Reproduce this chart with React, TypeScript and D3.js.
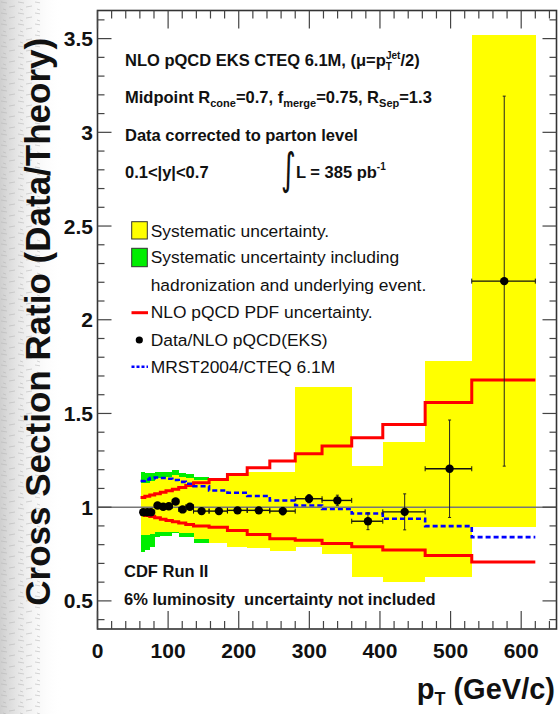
import React from "react";
import * as d3 from "d3";

// pT bin edges (GeV/c)
const binLow = [61, 67, 74, 81, 89, 97, 106, 115, 125, 136, 158, 184, 212, 244, 280, 318, 360, 404, 464, 530];
const binHigh = [67, 74, 81, 89, 97, 106, 115, 125, 136, 158, 184, 212, 244, 280, 318, 360, 404, 464, 530, 620];
// mean pT of each bin and the measured Data/NLO ratio
const ptMean = [64.8, 70.5, 75.7, 85, 93, 101, 110.6, 120.5, 130.8, 147.4, 171.9, 198.3, 228.4, 262.4, 299.6, 339.7, 383, 435, 498.6, 576];
const dataRatio = [0.973, 0.973, 0.973, 1.009, 1.002, 1.005, 1.03, 0.988, 1.002, 0.979, 0.979, 0.983, 0.983, 0.979, 1.045, 1.036, 0.925, 0.975, 1.205, 2.206];
const statError = [0.012, 0.012, 0.012, 0.012, 0.012, 0.013, 0.013, 0.013, 0.013, 0.013, 0.014, 0.015, 0.016, 0.02, 0.022, 0.028, 0.045, 0.096, 0.26, 0.987];
// systematic band (yellow)
const sysLow = [0.85, 0.85, 0.855, 0.865, 0.865, 0.865, 0.87, 0.86, 0.86, 0.83, 0.81, 0.79, 0.78, 0.765, 0.79, 0.75, 0.63, 0.6, 0.63, 0.895];
const sysHigh = [1.13, 1.13, 1.14, 1.155, 1.155, 1.16, 1.17, 1.16, 1.155, 1.145, 1.14, 1.17, 1.19, 1.19, 1.64, 1.64, 1.22, 1.35, 1.78, 3.52];
// systematic band including hadronization and underlying event (green), first ten bins
const hadLow = [0.76, 0.77, 0.79, 0.84, 0.845, 0.845, 0.86, 0.84, 0.84, 0.81];
const hadHigh = [1.19, 1.18, 1.18, 1.19, 1.19, 1.19, 1.2, 1.18, 1.175, 1.16];
// NLO pQCD PDF uncertainty envelope
const pdfUp = [1.052, 1.058, 1.065, 1.072, 1.08, 1.088, 1.096, 1.105, 1.115, 1.13, 1.148, 1.174, 1.21, 1.246, 1.285, 1.326, 1.37, 1.441, 1.559, 1.678];
const pdfDown = [0.962, 0.956, 0.95, 0.943, 0.936, 0.929, 0.922, 0.915, 0.908, 0.9, 0.893, 0.876, 0.854, 0.831, 0.824, 0.806, 0.789, 0.771, 0.742, 0.707];
// MRST2004 / CTEQ 6.1M
const mrstRatio = [1.14, 1.148, 1.155, 1.158, 1.156, 1.152, 1.145, 1.135, 1.125, 1.112, 1.089, 1.077, 1.06, 1.036, 1.009, 0.991, 0.966, 0.938, 0.899, 0.84];

const xTickValues = [0, 100, 200, 300, 400, 500, 600];
const yTickValues = [0.5, 1, 1.5, 2, 2.5, 3, 3.5];
const yTickLabels = ["0.5", "1", "1.5", "2", "2.5", "3", "3.5"];

const W = 558;
const H = 714;
const FONT = "'Liberation Sans', Arial, Helvetica, sans-serif";

const x = d3.scaleLinear().domain([0, 650]).range([97.5, 556.5]);
const y = d3.scaleLinear().domain([0.35, 3.65]).range([629, 10.5]);

function stepPath(values: number[]): string {
  const pts: [number, number][] = [];
  values.forEach((v, i) => {
    pts.push([binLow[i], v]);
    pts.push([binHigh[i], v]);
  });
  return d3.line<[number, number]>().x((d) => x(d[0])).y((d) => y(d[1]))(pts) || "";
}

export default function App() {
  const [x0, x1] = x.range();
  const [yB, yT] = y.range();
  const xMinor = d3.range(0, 651, 20);
  const yMinor = d3.range(0.4, 3.65, 0.1);
  const tickCol = "#444";

  return (
    <svg
      width={W}
      height={H}
      viewBox={`0 0 ${W} ${H}`}
      style={{ position: "absolute", left: 0, top: 0, background: "#fff" }}
      fontFamily={FONT}
    >
      <defs>
        <linearGradient id="scanFade" x1="0" x2="1" y1="0" y2="0">
          <stop offset="0" stopColor="#c9c9c9" stopOpacity="0.9" />
          <stop offset="0.35" stopColor="#e2e2e2" stopOpacity="0.7" />
          <stop offset="1" stopColor="#ffffff" stopOpacity="0" />
        </linearGradient>
        <pattern id="scanGrain" width="17" height="11" patternUnits="userSpaceOnUse">
          <path d="M1 2 L7 3 M9 7 L15 6 M3 9 L6 10" stroke="#b5b5b5" strokeWidth="0.8" />
        </pattern>
      </defs>

      {/* scanned paper edge on the left */}
      <rect x={0} y={0} width={62} height={H} fill="url(#scanFade)" />
      <rect x={0} y={0} width={40} height={H} fill="url(#scanGrain)" opacity={0.7} />

      {/* green: systematic incl. hadronization */}
      {hadLow.map((lo, i) => (
        <rect
          key={"g" + i}
          x={x(binLow[i])}
          width={x(binHigh[i]) - x(binLow[i])}
          y={y(hadHigh[i])}
          height={y(lo) - y(hadHigh[i])}
          fill="#00ee00"
          shapeRendering="crispEdges"
        />
      ))}
      {/* yellow: systematic */}
      {sysLow.map((lo, i) => (
        <rect
          key={"y" + i}
          x={x(binLow[i])}
          width={x(binHigh[i]) - x(binLow[i]) + 0.3}
          y={y(sysHigh[i])}
          height={y(lo) - y(sysHigh[i])}
          fill="#ffff00"
          shapeRendering="crispEdges"
        />
      ))}

      {/* PDF uncertainty envelope */}
      <path d={stepPath(pdfUp)} fill="none" stroke="#ff0000" strokeWidth={3} />
      <path d={stepPath(pdfDown)} fill="none" stroke="#ff0000" strokeWidth={3} />
      {/* MRST / CTEQ */}
      <path d={stepPath(mrstRatio)} fill="none" stroke="#0000ff" strokeWidth={2.6} strokeDasharray="5 3" />

      {/* unity line */}
      <line x1={x0} x2={x1} y1={y(1)} y2={y(1)} stroke="#777" strokeWidth={1.5} />

      {/* data points */}
      {dataRatio.map((v, i) => {
        const cx = x(ptMean[i]);
        const cy = y(v);
        const top = y(v + statError[i]);
        const bot = y(v - statError[i]);
        const xl = x(binLow[i]);
        const xr = x(binHigh[i]);
        return (
          <g key={"d" + i}>
            <line x1={cx} x2={cx} y1={top} y2={bot} stroke="#222" strokeWidth={1} />
            <line x1={cx - 1.5} x2={cx + 1.5} y1={top} y2={top} stroke="#222" strokeWidth={1} />
            <line x1={cx - 1.5} x2={cx + 1.5} y1={bot} y2={bot} stroke="#222" strokeWidth={1} />
            <line x1={xl} x2={xr} y1={cy} y2={cy} stroke="#111" strokeWidth={1.4} />
            <line x1={xl} x2={xl} y1={cy - 2.5} y2={cy + 2.5} stroke="#111" strokeWidth={1} />
            <line x1={xr} x2={xr} y1={cy - 2.5} y2={cy + 2.5} stroke="#111" strokeWidth={1} />
            <circle cx={cx} cy={cy} r={4.2} fill="#000" />
          </g>
        );
      })}

      {/* frame and ticks */}
      <rect x={x0} y={yT} width={x1 - x0} height={yB - yT} fill="none" stroke="#333" strokeWidth={1.6} />
      {xMinor.map((t) => {
        const major = t % 100 === 0;
        const len = major ? 18 : 8;
        return (
          <g key={"xt" + t}>
            <line x1={x(t)} x2={x(t)} y1={yB} y2={yB - len} stroke={tickCol} strokeWidth={1.2} />
            <line x1={x(t)} x2={x(t)} y1={yT} y2={yT + len} stroke={tickCol} strokeWidth={1.2} />
          </g>
        );
      })}
      {yMinor.map((t) => {
        const major = Math.abs(t * 2 - Math.round(t * 2)) < 1e-6;
        const len = major ? 14 : 7;
        return (
          <g key={"yt" + t.toFixed(2)}>
            <line x1={x0} x2={x0 + len} y1={y(t)} y2={y(t)} stroke={tickCol} strokeWidth={1.2} />
            <line x1={x1} x2={x1 - len} y1={y(t)} y2={y(t)} stroke={tickCol} strokeWidth={1.2} />
          </g>
        );
      })}

      {/* tick labels */}
      {xTickValues.map((t) => (
        <text key={"xl" + t} x={x(t)} y={658} textAnchor="middle" fontSize={21} fontWeight="bold" fill="#111">
          {t}
        </text>
      ))}
      {yTickValues.map((t, i) => (
        <text key={"yl" + t} x={93} y={y(t) + 7.5} textAnchor="end" fontSize={21} fontWeight="bold" fill="#111">
          {yTickLabels[i]}
        </text>
      ))}

      {/* axis titles */}
      <text
        transform={`translate(50, ${(yT + yB) / 2 + 2}) rotate(-90)`}
        textAnchor="middle"
        fontSize={35}
        fontWeight="bold"
        fill="#111"
      >
        Cross Section Ratio (Data/Theory)
      </text>
      <text x={555} y={699} textAnchor="end" fontSize={29} fontWeight="bold" fill="#111">
        p<tspan fontSize={18} dy={6}>T</tspan>
        <tspan dy={-6}> (GeV/c)</tspan>
      </text>

      {/* header text */}
      <g fontSize={16.5} fontWeight="bold" fill="#111">
        <text x={125} y={65.7}>
          NLO pQCD EKS CTEQ 6.1M, (μ=p
          <tspan fontSize={10} dy={4}>T</tspan>
          <tspan fontSize={10} dx={-6} dy={-11}>Jet</tspan>
          <tspan dy={7}>/2)</tspan>
        </text>
        <text x={125} y={103.3}>
          Midpoint R<tspan fontSize={11} dy={4}>cone</tspan>
          <tspan dy={-4}>=0.7, f</tspan>
          <tspan fontSize={11} dy={4}>merge</tspan>
          <tspan dy={-4}>=0.75, R</tspan>
          <tspan fontSize={11} dy={4}>Sep</tspan>
          <tspan dy={-4}>=1.3</tspan>
        </text>
        <text x={125} y={140.7}>Data corrected to parton level</text>
        <text x={125} y={177.7}>0.1&lt;|y|&lt;0.7</text>
        <text
          transform="translate(281, 184) scale(0.75, 1.15)"
          fontSize={38}
          fontWeight="normal"
          fontFamily="'DejaVu Sans', sans-serif"
        >
          ∫
        </text>
        <text x={296} y={177.7}>
          L = 385 pb<tspan fontSize={10} dy={-8}>-1</tspan>
        </text>
        <text x={124} y={576.7}>CDF Run II</text>
        <text x={124} y={605}>{"6% luminosity\u00a0 uncertainty not included"}</text>
      </g>

      {/* legend */}
      <rect x={131.7} y={221.7} width={15.6} height={17.3} fill="#ffff00" stroke="#333" strokeWidth={1} />
      <rect x={131.7} y={248.3} width={15.6} height={18.4} fill="#00ee00" stroke="#333" strokeWidth={1} />
      <line x1={131.5} x2={148} y1={312.7} y2={312.7} stroke="#ff0000" strokeWidth={3} />
      <circle cx={139.3} cy={340} r={3.6} fill="#000" />
      <line x1={131.5} x2={148} y1={366.7} y2={366.7} stroke="#0000ff" strokeWidth={2.4} strokeDasharray="3 2" />
      <g fontSize={17.4} fill="#111">
        <text x={150.7} y={236.7}>Systematic uncertainty.</text>
        <text x={150.7} y={263.3}>Systematic uncertainty including</text>
        <text x={150.7} y={290.7}>hadronization and underlying event.</text>
        <text x={150.7} y={318.3}>NLO pQCD PDF uncertainty.</text>
        <text x={150.7} y={345.7}>Data/NLO pQCD(EKS)</text>
        <text x={150.7} y={372.7}>MRST2004/CTEQ 6.1M</text>
      </g>
    </svg>
  );
}
